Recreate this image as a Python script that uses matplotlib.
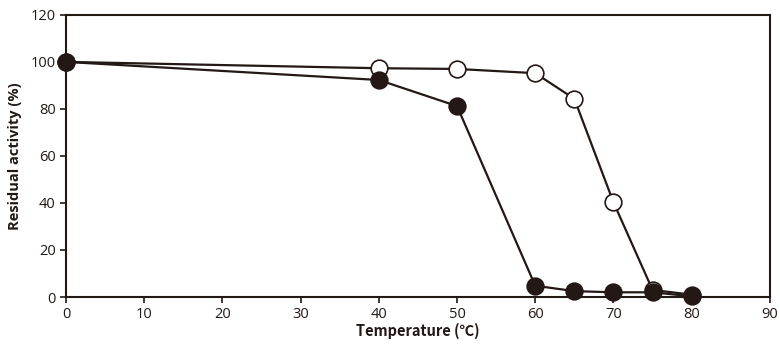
import matplotlib
matplotlib.use("Agg")
import matplotlib.pyplot as plt

plt.rcParams['font.family'] = ['Open Sans', 'DejaVu Sans']

temps = [0, 40, 50, 60, 65, 70, 75, 80]
open_vals = [100, 97.3, 97, 95.2, 84.3, 40.3, 3, 1]
filled_vals = [100, 92.3, 81.2, 4.8, 2.5, 2, 2, 0.3]

x_ticks = [0, 10, 20, 30, 40, 50, 60, 70, 80, 90]
y_ticks = [0, 20, 40, 60, 80, 100, 120]

fig = plt.figure(figsize=(7.8, 3.54), dpi=100)
ax = fig.add_axes([0.0846, 0.161, 0.9024, 0.797])

c = '#231815'
ax.plot(temps, open_vals, '-o', color=c, lw=1.6, markersize=12,
        markerfacecolor='white', markeredgecolor=c, markeredgewidth=1.2, zorder=3)
ax.plot(temps, filled_vals, '-o', color=c, lw=1.6, markersize=12,
        markerfacecolor=c, markeredgecolor=c, markeredgewidth=1.2, zorder=4)

ax.set_xlim(0, 90)
ax.set_ylim(0, 120)
ax.set_xticks(x_ticks)
ax.set_yticks(y_ticks)
ax.tick_params(direction='out', length=4, width=1.2, colors=c, labelsize=10.5, labelcolor='#231815')
for s in ax.spines.values():
    s.set_linewidth(1.5)
    s.set_color(c)
for l in ax.lines:
    l.set_clip_on(False)

ax.set_xlabel('Temperature (℃)', fontsize=10.5, fontweight='bold', color=c, labelpad=0,
              family=['Noto Sans CJK JP', 'DejaVu Sans'])
ax.set_ylabel('Residual activity (%)', fontsize=10.5, fontweight='bold', color=c, labelpad=6)

fig.savefig('out.png', dpi=100)
